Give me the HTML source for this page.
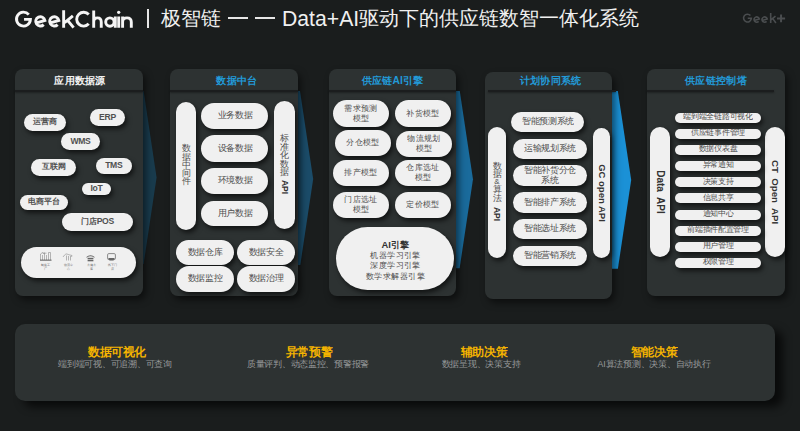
<!DOCTYPE html>
<html><head><meta charset="utf-8">
<style>
*{margin:0;padding:0;box-sizing:border-box}
html,body{width:800px;height:431px;overflow:hidden;background:#1a1d1d}
body{position:relative;font-family:"Liberation Sans",sans-serif;color:#fff}
.a{position:absolute;white-space:nowrap}
.panel{position:absolute;background:#2d3232;border-radius:8px;box-shadow:3px 4px 7px rgba(0,0,0,.5)}
.hd{position:absolute;left:0;right:0;top:5.5px;text-align:center;font-size:11px;font-weight:bold;line-height:11px;color:#229ad8;white-space:nowrap;transform:scale(.935)}
.ln{position:absolute;left:0;right:0;top:20.5px;height:2px;background:#1b1d1e;box-shadow:0 1px 2px rgba(0,0,0,.35)}
.p{position:absolute;background:#f0f0f0;border-radius:20px;color:#4d4d4d;text-align:center;display:flex;align-items:center;justify-content:center;box-shadow:2px 3px 5px rgba(0,0,0,.62);white-space:nowrap;font-size:9px;line-height:10px}
.p>span{display:inline-block;position:relative;top:-0.7px}
.vt{position:absolute;text-align:center;font-size:9px;color:#4d4d4d}
.vr{position:absolute;width:0;height:0}
.vr span{position:absolute;left:0;top:0;white-space:nowrap;transform:translate(-50%,-50%) rotate(90deg);font-size:8.5px;font-weight:bold;color:#333;line-height:10px}
.s1{font-size:8px;font-weight:bold;color:#505050}
.s5{border-radius:6px}
.bt{position:absolute;text-align:center;white-space:nowrap}
.bt b{display:block;font-size:12px;color:#f5b400;line-height:14px;transform:scale(.96)}
.bt i{display:block;font-style:normal;font-size:9px;color:#989a9b;line-height:11px;transform:scale(.97)}
</style></head><body>
<svg class="a" style="left:0;top:0" width="140" height="36" viewBox="0 0 140 36"><g fill="none" stroke="#f5f5f5" stroke-width="2.9"><path d="M28.77 14.63 A6.95 6.95 0 1 0 30.40 19.40 H24.05"/><path d="M35.70 23.10 L44.90 20.43 A4.65 4.65 0 1 0 43.69 24.63"/><path d="M49.65 23.10 L58.85 20.43 A4.65 4.65 0 1 0 57.64 24.63"/><path d="M63.65 10.3 V27.7 M72.9 15.9 L64.6 22.6 M67.6 20.3 L73.6 27.7"/><path d="M88.73 14.58 A6.9 6.9 0 1 0 88.73 23.82"/><path d="M93.7 10.55 V27.7 M93.7 22 Q93.7 17.85 97.5 17.85 Q101.25 17.85 101.25 22 V27.7"/><path d="M115.3 16.4 V27.7 M118.7 16.4 V27.7"/><path d="M122.6 16.4 V27.7 M122.6 22 Q122.6 17.85 126.95 17.85 Q131.3 17.85 131.3 22 V27.7"/><circle cx="109.9" cy="22.05" r="4.2"/></g><circle cx="118.7" cy="12.3" r="1.65" fill="#f5f5f5"/></svg>
<div class="a" style="left:147px;top:9px;width:2px;height:19px;background:#e6e6e6"></div>
<div class="a" style="left:161px;top:5.5px;font-size:20px;line-height:24px;color:#f0f0f0">极智链</div>
<div class="a" style="left:228px;top:17px;width:19.5px;height:1.6px;background:#e6e6e6"></div>
<div class="a" style="left:255px;top:17px;width:19.5px;height:1.6px;background:#e6e6e6"></div>
<div class="a" style="left:282px;top:6px;font-size:21.2px;line-height:26px;color:#f0f0f0">Data+AI</div>
<div class="a" style="left:359px;top:5.5px;font-size:20px;line-height:24px;color:#f0f0f0">驱动下的供应链数智一体化系统</div>
<svg class="a" style="left:0;top:0" width="800" height="36"><g fill="none" stroke="#4a4d4f" stroke-width="1.6"><path d="M750.44 15.59 A3.9 3.9 0 1 0 751.35 18.30 H747.75"/><path d="M754.05 20.55 L759.29 19.00 A2.65 2.65 0 1 0 758.61 21.39"/><path d="M762.00 20.55 L767.24 19.00 A2.65 2.65 0 1 0 766.56 21.39"/><path d="M770.7 12.9 V23 M775.5 16.1 L771.2 19.7 M772.8 18.6 L775.9 23"/></g><path d="M777 18.4 H785.1 M781.05 14.5 V22.3" stroke="#4a4d4f" stroke-width="2" fill="none"/></svg>
<svg class="a" style="left:0;top:0" width="800" height="431"><polygon points="140,91 143.62,91 156.6,177.5 143.62,264 140,264" fill="#193b4d"/><polygon points="295,91 300,91 313.2,179 300.3,265 295,265" fill="#1b4c69"/><polygon points="452,91 459.77,91 473,179.2 459.63,268.3 452,268.3" fill="#1a6b9c"/><polygon points="608,91 617.85,91 631.2,180 617.88,268.8 608,268.8" fill="#1b91d6"/></svg>
<div class="panel" style="left:15px;top:69px;width:128px;height:227px"><div class="hd" style="color:#f2f2f2;left:1px;right:-1px">应用数据源</div><div class="ln"></div></div>
<div class="p s1" style="left:24px;top:114px;width:42px;height:17px;"><span>运营商</span></div>
<div class="p s1" style="left:90px;top:109px;width:35px;height:17px;"><span style="letter-spacing:-0.3px;font-size:8.6px">ERP</span></div>
<div class="p s1" style="left:61px;top:133px;width:39px;height:17px;"><span style="letter-spacing:-0.3px;font-size:8.6px">WMS</span></div>
<div class="p s1" style="left:31px;top:159px;width:45px;height:17px;"><span>互联网</span></div>
<div class="p s1" style="left:95.5px;top:157.5px;width:36.5px;height:16.5px;"><span style="letter-spacing:-0.3px;font-size:8.6px">TMS</span></div>
<div class="p s1" style="left:82px;top:183px;width:29px;height:12px;"><span style="letter-spacing:-0.3px;font-size:8.6px">IoT</span></div>
<div class="p s1" style="left:20px;top:195px;width:48px;height:15px;"><span>电商平台</span></div>
<div class="p s1" style="left:61.5px;top:213px;width:71.5px;height:18px;"><span>门店<span style="font-size:8.6px;letter-spacing:-0.3px">POS</span></span></div>
<div class="p " style="left:21px;top:247px;width:115px;height:31px;"></div>
<svg class="a" style="left:21px;top:247px" width="115" height="31" viewBox="0 0 115 31">
<g fill="none" stroke="#808080" stroke-width="0.55">
 <path d="M19.5 13 V7 l2 -1.5 l2 1.5 V13"/>
 <path d="M27.5 13 V5.5 M29.5 13 V5.5 M27.5 5.5 h2"/>
 <path d="M21.5 13 V8 M25.5 13 V8"/>
 <path d="M23.5 7 V5.5 M21.5 6.2 h4"/>
</g>
<rect x="19" y="12.6" width="11.5" height="1.1" fill="#666"/>
<g fill="none" stroke="#808080" stroke-width="0.55">
 <path d="M42 10 Q45 5.5 47 7.5 L51 8.5 L50.5 10"/>
 <path d="M45.5 8.5 V13.5 M47.5 9 V13.5 M49.5 9 V13.5"/>
</g>
<g fill="#666">
 <path d="M65 10.2 Q69.5 6.5 74 10.2 L73 10.6 Q69.5 8 66 10.6 Z"/>
 <rect x="66.6" y="10.8" width="5.8" height="1.6"/>
 <rect x="66.6" y="13" width="5.8" height="1.3"/>
</g>
<rect x="86.6" y="6.6" width="7.8" height="6" rx="1.2" fill="none" stroke="#707070" stroke-width="0.8"/>
<path d="M87.2 11 H93.8 L92.5 13.6 H88.5 Z" fill="#666"/>
</svg>
<div class="a" style="left:40.5px;top:264.2px;width:10px;text-align:center;font-size:3px;line-height:3.4px;color:#666">制造工<br>厂</div>
<div class="a" style="left:63px;top:264.2px;width:10px;text-align:center;font-size:3px;line-height:3.4px;color:#666">物流中<br>心</div>
<div class="a" style="left:86px;top:264.2px;width:10px;text-align:center;font-size:3px;line-height:3.4px;color:#666">仓储仓<br>库</div>
<div class="a" style="left:107px;top:264.2px;width:10px;text-align:center;font-size:3px;line-height:3.4px;color:#666">线下门<br>店</div>
<div class="panel" style="left:170px;top:69px;width:128px;height:227px"><div class="hd" style="left:3px;right:-3px">数据中台</div><div class="ln"></div></div>
<div class="p " style="left:176px;top:101.5px;width:20px;height:128px;"></div>
<div class="vt" style="left:176px;top:144.3px;width:20px;line-height:8.3px;font-size:9px">数<br>据<br>中<br>间<br>件</div>
<div class="p " style="left:201px;top:102.5px;width:67px;height:26px;"><span style="transform:scale(0.95);">业务数据</span></div>
<div class="p " style="left:201px;top:135px;width:67px;height:26.5px;"><span style="transform:scale(0.95);">设备数据</span></div>
<div class="p " style="left:201px;top:168px;width:67px;height:26px;"><span style="transform:scale(0.95);">环境数据</span></div>
<div class="p " style="left:201px;top:200.5px;width:67px;height:25.5px;"><span style="transform:scale(0.95);">用户数据</span></div>
<div class="p " style="left:274px;top:101px;width:20.5px;height:128px;"></div>
<div class="vt" style="left:274px;top:134px;width:20.5px;line-height:8.6px">标<br>准<br>化<br>数<br>据</div>
<div class="vr" style="left:284.5px;top:187px"><span>API</span></div>
<div class="p " style="left:176px;top:239.5px;width:58px;height:25.5px;"><span style="transform:scale(0.95);">数据仓库</span></div>
<div class="p " style="left:236.5px;top:239.5px;width:58px;height:25.5px;"><span style="transform:scale(0.95);">数据安全</span></div>
<div class="p " style="left:176px;top:266px;width:58px;height:26px;"><span style="transform:scale(0.95);">数据监控</span></div>
<div class="p " style="left:236.5px;top:266px;width:58px;height:26px;"><span style="transform:scale(0.95);">数据治理</span></div>
<div class="panel" style="left:329px;top:69px;width:127px;height:227px"><div class="hd">供应链AI引擎</div><div class="ln"></div></div>
<div class="p " style="left:333px;top:100px;width:56px;height:26.5px;"><span style="transform:scale(0.94);">需求预测<br>模型</span></div>
<div class="p " style="left:395px;top:100px;width:56px;height:26.5px;"><span style="transform:scale(0.94);">补货模型</span></div>
<div class="p " style="left:334.5px;top:130px;width:56px;height:26px;"><span style="transform:scale(0.94);">分仓模型</span></div>
<div class="p " style="left:396px;top:130.5px;width:56px;height:26px;"><span style="transform:scale(0.94);">物流规划<br>模型</span></div>
<div class="p " style="left:333px;top:160px;width:56px;height:26px;"><span style="transform:scale(0.94);">排产模型</span></div>
<div class="p " style="left:395px;top:160px;width:56px;height:26px;"><span style="transform:scale(0.94);">仓库选址<br>模型</span></div>
<div class="p " style="left:333px;top:191.5px;width:56px;height:26px;"><span style="transform:scale(0.94);">门店选址<br>模型</span></div>
<div class="p " style="left:394.5px;top:191.5px;width:56px;height:26px;"><span style="transform:scale(0.94);">定价模型</span></div>
<div class="p " style="left:336px;top:226.5px;width:118px;height:63.5px;border-radius:32px;padding-top:4px"><span style="transform:scale(0.94);line-height:11px"><b style="font-size:10px;color:#333;line-height:13px;display:block">AI引擎</b>机器学习引擎<br>深度学习引擎<br>数学求解器引擎</span></div>
<div class="panel" style="left:485px;top:72px;width:127px;height:227px"><div class="hd" style="top:2.5px;left:2px;right:-2px">计划协同系统</div><div class="ln" style="left:3px;right:-4px;top:17.75px"></div></div>
<div class="p " style="left:488px;top:127px;width:18px;height:131px;"></div>
<div class="vt" style="left:488px;top:162px;width:18px;line-height:8.4px">数<br>据<br><span style="display:block;line-height:6.5px;font-size:8px">&amp;</span>算<br>法</div>
<div class="vr" style="left:497px;top:213.5px"><span>API</span></div>
<div class="p " style="left:511px;top:112px;width:73px;height:20px;"><span style="transform:scale(0.95);">智能预测系统</span></div>
<div class="p " style="left:513px;top:138.5px;width:73.5px;height:20px;"><span style="transform:scale(0.95);">运输规划系统</span></div>
<div class="p " style="left:513px;top:165px;width:73.5px;height:21px;"><span style="transform:scale(0.95);">智能补货分仓<br>系统</span></div>
<div class="p " style="left:513px;top:192px;width:73.5px;height:20.5px;"><span style="transform:scale(0.95);">智能排产系统</span></div>
<div class="p " style="left:513px;top:219px;width:73.5px;height:20px;"><span style="transform:scale(0.95);">智能选址系统</span></div>
<div class="p " style="left:513px;top:245.5px;width:73.5px;height:20.5px;"><span style="transform:scale(0.95);">智能营销系统</span></div>
<div class="p " style="left:593px;top:127.5px;width:17px;height:130.5px;"></div>
<div class="vr" style="left:601.5px;top:193px"><span style="font-size:9.5px">GC open API</span></div>
<div class="panel" style="left:647px;top:69px;width:138px;height:227px"><div class="hd">供应链控制塔</div><div class="ln" style="right:11px"></div></div>
<div class="p " style="left:650px;top:126.5px;width:20px;height:130.5px;"></div>
<div class="vr" style="left:660px;top:191.5px"><span style="font-size:10px">Data&nbsp; API</span></div>
<div class="p " style="left:765px;top:126.5px;width:20px;height:130.5px;"></div>
<div class="vr" style="left:775px;top:191.7px"><span style="font-size:9.7px">CT&nbsp; Open&nbsp; API</span></div>
<div class="p s5" style="left:675px;top:113px;width:85.5px;height:10px;font-size:8px"><span style="transform:scale(0.96);">端到端全链路可视化</span></div>
<div class="p s5" style="left:675px;top:129px;width:85.5px;height:10px;font-size:8px"><span style="transform:scale(0.96);">供应链事件管理</span></div>
<div class="p s5" style="left:675px;top:145px;width:85.5px;height:10px;font-size:8px"><span style="transform:scale(0.96);">数据仪表盘</span></div>
<div class="p s5" style="left:675px;top:161px;width:85.5px;height:10px;font-size:8px"><span style="transform:scale(0.96);">异常通知</span></div>
<div class="p s5" style="left:675px;top:177.3px;width:85.5px;height:10px;font-size:8px"><span style="transform:scale(0.96);">决策支持</span></div>
<div class="p s5" style="left:675px;top:193.4px;width:85.5px;height:10px;font-size:8px"><span style="transform:scale(0.96);">信息共享</span></div>
<div class="p s5" style="left:675px;top:209.5px;width:85.5px;height:10px;font-size:8px"><span style="transform:scale(0.96);">通知中心</span></div>
<div class="p s5" style="left:675px;top:225.5px;width:85.5px;height:10px;font-size:8px"><span style="transform:scale(0.96);">前端插件配置管理</span></div>
<div class="p s5" style="left:675px;top:241.7px;width:85.5px;height:10px;font-size:8px"><span style="transform:scale(0.96);">用户管理</span></div>
<div class="p s5" style="left:675px;top:257.7px;width:85.5px;height:10px;font-size:8px"><span style="transform:scale(0.96);">权限管理</span></div>
<div class="panel" style="left:15px;top:323.5px;width:759.5px;height:77px;border-radius:10px;box-shadow:8px 6px 8px rgba(0,0,0,.65)"></div>
<div class="bt" style="left:57.4px;width:120px;top:344.5px"><b>数据可视化</b></div>
<div class="bt" style="left:34.7px;width:160px;top:359px"><i>端到端可视、可追溯、可查询</i></div>
<div class="bt" style="left:249.1px;width:120px;top:344.5px"><b>异常预警</b></div>
<div class="bt" style="left:227.9px;width:160px;top:359px"><i>质量评判、动态监控、预警报警</i></div>
<div class="bt" style="left:423.5px;width:120px;top:344.5px"><b>辅助决策</b></div>
<div class="bt" style="left:401px;width:160px;top:359px"><i>数据呈现、决策支持</i></div>
<div class="bt" style="left:594.1px;width:120px;top:344.5px"><b>智能决策</b></div>
<div class="bt" style="left:573.5px;width:160px;top:359px"><i>AI算法预测、决策、自动执行</i></div>
</body></html>
